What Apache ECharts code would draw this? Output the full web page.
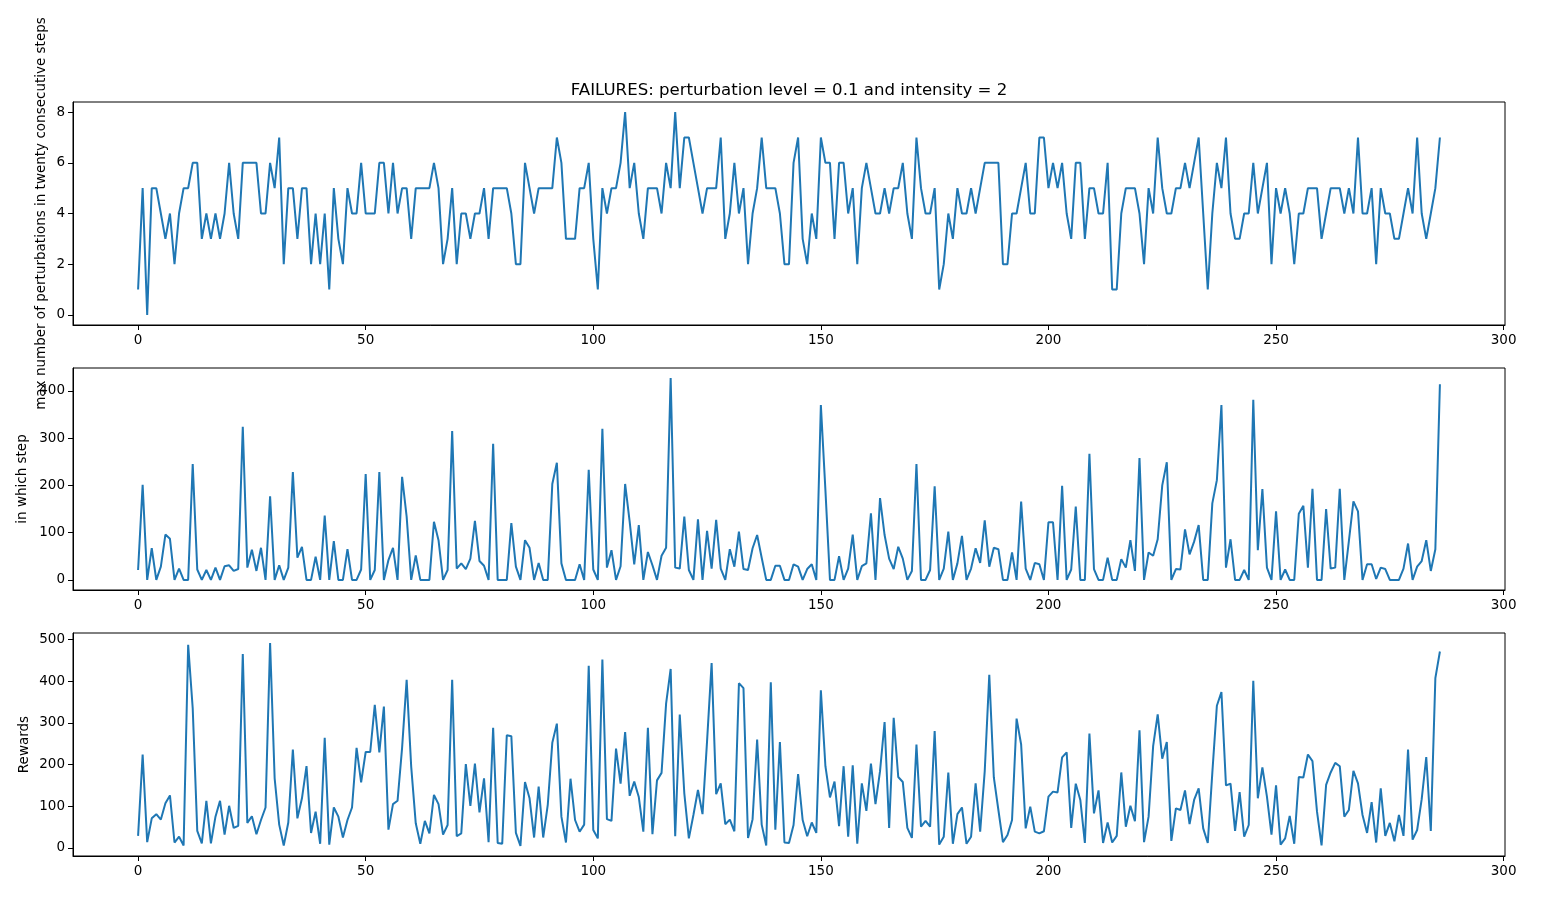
<!DOCTYPE html>
<html><head><meta charset="utf-8">
<script src="https://cdn.jsdelivr.net/npm/echarts@6/dist/echarts.min.js"></script>
<style>html,body{margin:0;padding:0;background:#fff}#c{width:1565px;height:908px}</style>
</head><body><div id="c"></div>
<script>
const failures=[1,5,0,5,5,4,3,4,2,4,
5,5,6,6,3,4,3,4,3,4,
6,4,3,6,6,6,6,4,4,6,
5,7,2,5,5,3,5,5,2,4,
2,4,1,5,3,2,5,4,4,6,
4,4,4,6,6,4,6,4,5,5,
3,5,5,5,5,6,5,2,3,5,
2,4,4,3,4,4,5,3,5,5,
5,5,4,2,2,6,5,4,5,5,
5,5,7,6,3,3,3,5,5,6,
3,1,5,4,5,5,6,8,5,6,
4,3,5,5,5,4,6,5,8,5,
7,7,6,5,4,5,5,5,7,3,
4,6,4,5,2,4,5,7,5,5,
5,4,2,2,6,7,3,2,4,3,
7,6,6,3,6,6,4,5,2,5,
6,5,4,4,5,4,5,5,6,4,
3,7,5,4,4,5,1,2,4,3,
5,4,4,5,4,5,6,6,6,6,
2,2,4,4,5,6,4,4,7,7,
5,6,5,6,4,3,6,6,3,5,
5,4,4,6,1,1,4,5,5,5,
4,2,5,4,7,5,4,4,5,5,
6,5,6,7,4,1,4,6,5,7,
4,3,3,4,4,6,4,5,6,2,
5,4,5,4,2,4,4,5,5,5,
3,4,5,5,5,4,5,4,7,4,
4,5,2,5,4,4,3,3,4,5,
4,7,4,3,4,5,7];
const steps=[21,201,0,67,0,28,96,87,0,24,
0,0,245,22,0,21,0,26,0,29,
31,19,23,324,26,64,19,68,0,177,
0,31,0,26,228,47,70,0,0,49,
0,136,0,82,0,0,65,0,0,22,
224,0,21,228,0,42,68,0,218,134,
0,52,0,0,0,123,84,0,21,315,
24,35,23,45,125,40,30,0,288,0,
0,0,120,28,0,84,68,0,36,0,
0,203,248,35,0,0,0,33,0,233,
22,0,320,26,63,0,29,203,123,33,
116,0,59,31,0,51,68,427,26,24,
134,21,0,128,0,104,24,127,24,0,
65,28,102,23,21,67,95,47,0,0,
30,30,0,0,33,28,0,23,33,0,
370,190,0,0,50,0,24,96,0,29,
35,141,0,173,95,45,23,70,45,0,
19,245,0,0,21,198,0,24,102,0,
35,93,0,24,67,36,126,28,68,65,
0,0,58,0,166,24,0,36,33,0,
122,122,0,199,0,22,155,0,0,267,
23,0,0,47,0,0,44,26,84,19,
258,0,58,51,86,200,249,0,23,22,
107,54,81,116,0,0,162,211,370,26,
86,0,0,21,0,381,63,192,26,0,
145,0,22,0,0,140,157,26,193,0,
0,150,24,26,193,0,82,166,145,0,
33,33,2,26,23,0,0,0,24,77,
0,28,40,84,19,65,414];
const rewards=[29,224,14,71,81,68,107,126,13,27,
6,487,335,41,11,113,11,75,113,32,
101,48,53,465,60,76,33,67,97,491,
167,56,6,61,236,71,119,196,36,87,
10,264,8,97,75,25,67,97,240,157,
230,230,343,229,339,44,105,113,240,403,
195,59,10,65,35,127,105,32,55,403,
28,35,201,101,202,85,167,14,288,12,
10,270,268,36,5,158,119,25,147,25,
103,252,298,75,13,166,67,39,56,437,
43,23,452,69,65,238,154,278,125,159,
122,39,288,33,162,180,346,429,28,320,
131,23,79,139,81,256,443,129,155,57,
68,40,395,383,24,69,260,56,6,397,
44,254,13,12,55,177,67,28,61,36,
378,196,121,159,52,196,27,198,10,155,
89,202,105,184,302,48,312,170,158,48,
24,248,51,65,51,280,8,27,181,10,
81,97,10,27,155,39,184,415,169,91,
14,31,67,310,248,47,99,39,35,40,
123,135,133,217,229,48,154,115,12,274,
83,138,12,61,13,29,181,51,101,64,
282,14,75,244,320,214,254,17,95,91,
138,57,115,143,47,12,180,341,374,150,
154,41,134,27,55,401,119,193,123,32,
150,8,23,77,10,170,169,224,208,87,
6,151,181,204,196,75,91,185,155,79,
36,110,13,143,29,60,16,79,29,236,
20,43,117,218,41,407,471];
const xTicks=[0,50,100,150,200,250,300];
const yTicksFail=[0,2,4,6,8];
const yTicksSteps=[0,100,200,300,400];
const yTicksRewards=[0,100,200,300,400,500];
const titleText='FAILURES: perturbation level = 0.1 and intensity = 2';
const yNames=['max number of perturbations in twenty consecutive steps','in which step','Rewards'];

const FONT='DejaVu Sans';
const chart=echarts.init(document.getElementById('c'),null,{renderer:'canvas'});
const grids=[{top:102,height:223},{top:368,height:222},{top:633,height:223}];
const yRanges=[[-0.4,8.4],[-21.35,448.35],[-19.3,515.3]];
const yTickSets=[yTicksFail,yTicksSteps,yTicksRewards];
const seriesData=[failures,steps,rewards];
function xAxis(i){return {type:'value',gridIndex:i,min:-14.3,max:300.3,
  axisLine:{show:true,onZero:false,lineStyle:{color:'#000',width:1}},
  axisTick:{show:true,inside:false,length:5,customValues:xTicks,lineStyle:{color:'#000',width:1}},
  axisLabel:{customValues:xTicks,color:'#000',fontFamily:FONT,fontSize:13.5,margin:8},
  splitLine:{show:false}};}
function yAxis(i){return {type:'value',gridIndex:i,min:yRanges[i][0],max:yRanges[i][1],
  axisLine:{show:true,onZero:false,lineStyle:{color:'#000',width:1}},
  axisTick:{show:true,inside:false,length:5,customValues:yTickSets[i],lineStyle:{color:'#000',width:1}},
  axisLabel:{customValues:yTickSets[i],color:'#000',fontFamily:FONT,fontSize:13.5,margin:8},
  splitLine:{show:false}};}
const nameX=[41,22,24];
chart.setOption({
  animation:false,
  backgroundColor:'#fff',
  title:{text:titleText,left:784,textAlign:'center',top:77,textStyle:{fontFamily:FONT,fontSize:16.6,fontWeight:'normal',color:'#000'}},
  grid:grids.map(g=>({left:73,right:60,top:g.top,height:g.height,show:true,borderColor:'#000',borderWidth:1,backgroundColor:'transparent'})),
  xAxis:[0,1,2].map(xAxis),
  yAxis:[0,1,2].map(yAxis),
  series:seriesData.map((d,i)=>({type:'line',xAxisIndex:i,yAxisIndex:i,showSymbol:false,
    data:d.map((v,k)=>[k,v]),lineStyle:{color:'#1f77b4',width:2},itemStyle:{color:'#1f77b4'}})),
  graphic:yNames.map((t,i)=>({type:'text',x:nameX[i],y:grids[i].top+grids[i].height/2,rotation:Math.PI/2,
    style:{text:t,fontFamily:FONT,fontSize:13.5,fill:'#000',align:'center',verticalAlign:'middle'}}))
});
</script></body></html>
